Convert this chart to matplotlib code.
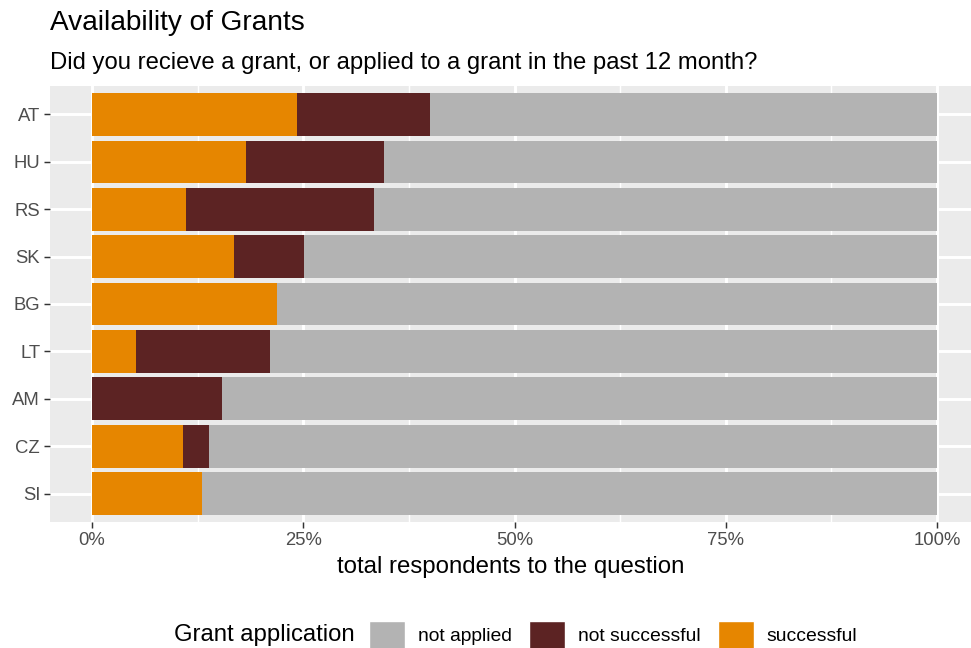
import matplotlib
matplotlib.use("Agg")
import matplotlib.pyplot as plt
from matplotlib.patches import Patch
from matplotlib.ticker import FuncFormatter, MultipleLocator
import numpy as np

plt.rcParams['font.family'] = ['Liberation Sans', 'DejaVu Sans']

countries = ["AT", "HU", "RS", "SK", "BG", "LT", "AM", "CZ", "SI"]
successful = [24.3, 18.2, 11.1, 16.8, 21.9, 5.2, 0.0, 10.8, 13.0]
not_successful = [15.7, 16.4, 22.3, 8.3, 0.0, 15.9, 15.4, 3.0, 0.0]
not_applied = [60.0, 65.4, 66.6, 74.9, 78.1, 78.9, 84.6, 86.2, 87.0]

categories = ["not applied", "not successful", "successful"]
colors = {"not applied": "#B3B3B3", "not successful": "#5C2323", "successful": "#E68600"}

W, H = 971, 648
fig = plt.figure(figsize=(W / 100, H / 100), dpi=100)
fig.patch.set_facecolor("white")

left, right, top, bottom = 50, 971, 86, 522
ax = fig.add_axes([left / W, 1 - bottom / H, (right - left) / W, (bottom - top) / H])
ax.set_facecolor("#EBEBEB")

n = len(countries)
ypos = np.arange(n)[::-1] + 1  # AT at top

s = np.array(successful) / 100
ns = np.array(not_successful) / 100
na = np.array(not_applied) / 100

ax.barh(ypos, s, height=0.9, color=colors["successful"], zorder=3)
ax.barh(ypos, ns, left=s, height=0.9, color=colors["not successful"], zorder=3)
ax.barh(ypos, na, left=s + ns, height=0.9, color=colors["not applied"], zorder=3)

ppu = 845  # px per unit on x
ax.set_xlim(-42 / ppu, (right - 92) / ppu)
ax.set_ylim(0.4, n + 0.6)

ax.xaxis.set_major_locator(MultipleLocator(0.25))
ax.xaxis.set_minor_locator(MultipleLocator(0.125))
ax.xaxis.set_major_formatter(FuncFormatter(lambda v, p: f"{v*100:.0f}%"))
ax.set_yticks(ypos)
ax.set_yticklabels(countries)

ax.grid(which="major", axis="both", color="white", linewidth=2.1, zorder=0)
ax.grid(which="minor", axis="x", color="white", linewidth=1.05, zorder=0)
ax.set_axisbelow(True)
for sp in ax.spines.values():
    sp.set_visible(False)

ax.tick_params(axis="both", which="major", length=4.1, width=1.05, color="#333333",
               labelcolor="#4D4D4D", labelsize=13.3, pad=3)
ax.tick_params(axis="both", which="minor", length=0)

ax.set_xlabel("total respondents to the question", fontsize=17.3, color="black", labelpad=5)

fig.text(50 / W, 1 - 23 / H, "Availability of Grants", fontsize=20.2, color="black",
         ha="left", va="center")
fig.text(50 / W, 1 - 62.5 / H, "Did you recieve a grant, or applied to a grant in the past 12 month?",
         fontsize=17.2, color="black", ha="left", va="center")

handles = [Patch(facecolor=colors[c], edgecolor="white", linewidth=1.0) for c in categories]
fig.text(355 / W, 1 - 635 / H, "Grant application", fontsize=17.2, ha="right", va="center")
leg = fig.legend(handles, categories, loc="center left", bbox_to_anchor=(369 / W, 1 - 635 / H),
                 ncol=3, frameon=False, fontsize=13.9, handlelength=1.87, handleheight=1.87,
                 handletextpad=0.67, columnspacing=0.88, borderpad=0, borderaxespad=0)

fig.savefig("out.png", dpi=100)
